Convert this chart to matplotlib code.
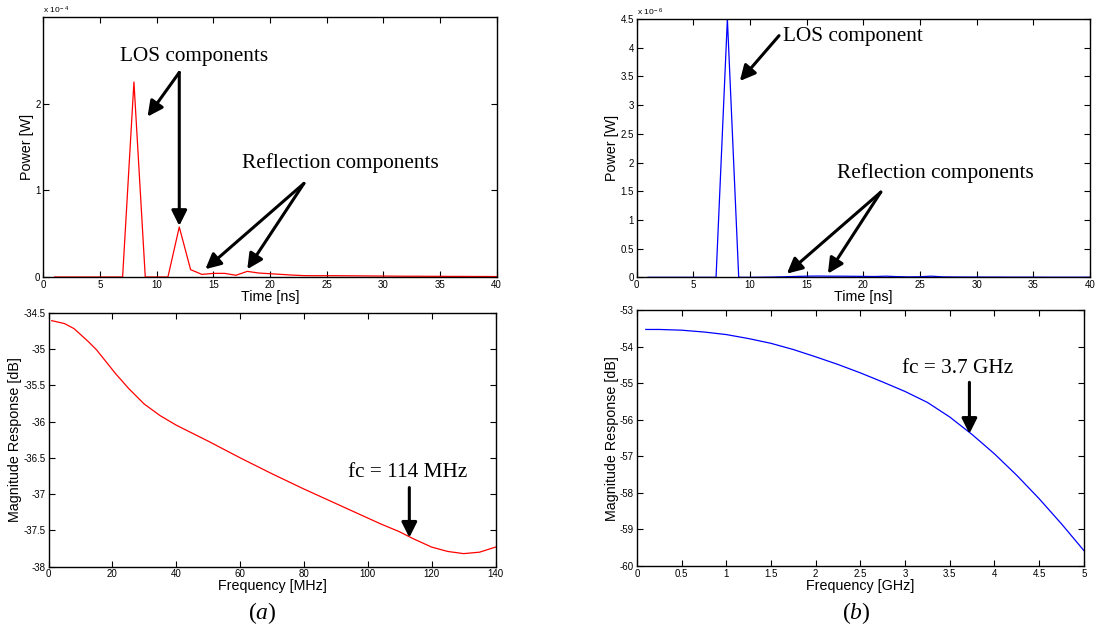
import numpy as np
import matplotlib
matplotlib.use("Agg")
import matplotlib.pyplot as plt

plt.rcParams['font.family'] = ['Liberation Sans', 'DejaVu Sans']
plt.rcParams['mathtext.fontset'] = 'custom'
plt.rcParams['mathtext.rm'] = 'Liberation Sans'
plt.rcParams['mathtext.it'] = 'Liberation Serif:italic'
plt.rcParams['axes.unicode_minus'] = False

# ---- data ----
time_ns = list(range(1, 41))
# (a) power in units of 1e-4 W
power_a_e4 = [0, 0, 0, 0, 0, 0, 0, 2.25, 0, 0,
              0, 0.577, 0.085, 0.03, 0.042, 0.042, 0.02, 0.065, 0.046, 0.038,
              0.03, 0.022, 0.016, 0.015, 0.015, 0.015, 0.014, 0.013, 0.012, 0.011,
              0.01, 0.009, 0.009, 0.008, 0.008, 0.007, 0.007, 0.006, 0.006, 0.005]
# (b) power in units of 1e-6 W
power_b_e6 = [0, 0, 0, 0, 0, 0, 0, 4.5, 0, 0,
              0.002, 0.005, 0.01, 0.015, 0.02, 0.022, 0.02, 0.02, 0.018, 0.016,
              0.014, 0.02, 0.012, 0.008, 0.01, 0.02, 0.008, 0.006, 0.005, 0.005,
              0.004, 0.004, 0.003, 0.003, 0.003, 0.002, 0.002, 0.002, 0.002, 0.002]

freq_mhz = [1, 5, 8, 10, 12.5, 15, 17, 21, 25, 30, 35, 40, 45, 50, 60, 70, 80, 90, 100,
            104, 110, 114, 120, 125, 130, 135, 140]
mag_a_db = [-34.61, -34.65, -34.72, -34.80, -34.90, -35.01, -35.12, -35.34, -35.54, -35.76,
            -35.92, -36.05, -36.16, -36.27, -36.50, -36.72, -36.93, -37.13, -37.33,
            -37.41, -37.52, -37.61, -37.73, -37.79, -37.82, -37.80, -37.73]

freq_ghz = [0.1, 0.25, 0.5, 0.75, 1.0, 1.25, 1.5, 1.75, 2.0, 2.25, 2.5, 2.75, 3.0,
            3.25, 3.5, 3.75, 4.0, 4.25, 4.5, 4.75, 5.0]
mag_b_db = [-53.52, -53.52, -53.54, -53.59, -53.66, -53.77, -53.90, -54.07, -54.27, -54.48,
            -54.71, -54.96, -55.22, -55.52, -55.92, -56.40, -56.93, -57.52, -58.16, -58.85,
            -59.58]

serif = ['Liberation Serif', 'DejaVu Serif']
ANN = 15.3
LAB = 10.3
TCK = 7

fig = plt.figure(figsize=(10.98, 6.27), dpi=100)

def style(ax):
    ax.tick_params(direction='in', top=True, right=True, length=4, width=0.8,
                   labelsize=TCK, pad=2)
    for s in ax.spines.values():
        s.set_linewidth(1.0)

arrow = dict(arrowstyle='-|>', color='k', lw=2.2, mutation_scale=23, shrinkA=0, shrinkB=0)

# ---- (a) top ----
ax1 = fig.add_axes([0.0394, 0.5582, 0.4129, 0.4147])
ax1.plot(time_ns, power_a_e4, color='red', lw=0.9)
ax1.set_xlim(0, 40)
ax1.set_ylim(0, 3)
ax1.set_xticks(range(0, 41, 5))
ax1.set_yticks([0, 1, 2])
style(ax1)
ax1.set_xlabel('Time [ns]', fontsize=LAB, labelpad=0)
ax1.set_ylabel('Power [W]', fontsize=LAB, labelpad=1)
ax1.text(0, 1.005, r'x 10$^{\rm -4}$', transform=ax1.transAxes, fontsize=6, ha='left', va='bottom')
ax1.text(6.8, 2.54, 'LOS components', family=serif, fontsize=ANN, ha='left', va='center')
ax1.annotate('', xy=(9.2, 1.85), xytext=(12.0, 2.36), arrowprops=arrow)
ax1.annotate('', xy=(12.0, 0.59), xytext=(12.0, 2.36), arrowprops=arrow)
ax1.text(17.5, 1.31, 'Reflection components', family=serif, fontsize=ANN, ha='left', va='center')
ax1.annotate('', xy=(14.3, 0.09), xytext=(23.0, 1.08), arrowprops=arrow)
ax1.annotate('', xy=(18.0, 0.09), xytext=(23.0, 1.08), arrowprops=arrow)

# ---- (a) bottom ----
ax2 = fig.add_axes([0.0442, 0.0962, 0.4071, 0.4051])
ax2.plot(freq_mhz, mag_a_db, color='red', lw=0.9)
ax2.set_xlim(0, 140)
ax2.set_ylim(-38, -34.5)
ax2.set_xticks(range(0, 141, 20))
ax2.set_yticks(np.arange(-38, -34.4, 0.5))
ax2.set_yticklabels(['-38', '-37.5', '-37', '-36.5', '-36', '-35.5', '-35', '-34.5'])
style(ax2)
ax2.set_xlabel('Frequency [MHz]', fontsize=LAB, labelpad=0)
ax2.set_ylabel('Magnitude Response [dB]', fontsize=LAB, labelpad=1)
ax2.text(112.5, -36.70, 'fc = 114 MHz', family=serif, fontsize=ANN, ha='center', va='center')
ax2.annotate('', xy=(113, -37.6), xytext=(113, -36.91), arrowprops=arrow)

# ---- (b) top ----
ax3 = fig.add_axes([0.5799, 0.5577, 0.4128, 0.412])
ax3.plot(time_ns, power_b_e6, color='blue', lw=0.9)
ax3.set_xlim(0, 40)
ax3.set_ylim(0, 4.5)
ax3.set_xticks(range(0, 41, 5))
ax3.set_yticks(np.arange(0, 4.51, 0.5))
ax3.set_yticklabels(['0', '0.5', '1', '1.5', '2', '2.5', '3', '3.5', '4', '4.5'])
style(ax3)
ax3.set_xlabel('Time [ns]', fontsize=LAB, labelpad=0)
ax3.set_ylabel('Power [W]', fontsize=LAB, labelpad=1)
ax3.text(0, 1.005, r'x 10$^{\rm -6}$', transform=ax3.transAxes, fontsize=6, ha='left', va='bottom')
ax3.text(12.9, 4.19, 'LOS component', family=serif, fontsize=ANN, ha='left', va='center')
ax3.annotate('', xy=(9.1, 3.42), xytext=(12.56, 4.21), arrowprops=arrow)
ax3.text(17.7, 1.815, 'Reflection components', family=serif, fontsize=ANN, ha='left', va='center')
ax3.annotate('', xy=(13.25, 0.064), xytext=(21.54, 1.485), arrowprops=arrow)
ax3.annotate('', xy=(16.87, 0.064), xytext=(21.54, 1.485), arrowprops=arrow)

# ---- (b) bottom ----
ax4 = fig.add_axes([0.58, 0.0976, 0.4071, 0.4072])
ax4.plot(freq_ghz, mag_b_db, color='blue', lw=0.9)
ax4.set_xlim(0, 5)
ax4.set_ylim(-60, -53)
ax4.set_xticks(np.arange(0, 5.01, 0.5))
ax4.set_xticklabels(['0', '0.5', '1', '1.5', '2', '2.5', '3', '3.5', '4', '4.5', '5'])
ax4.set_yticks(range(-60, -52))
style(ax4)
ax4.set_xlabel('Frequency [GHz]', fontsize=LAB, labelpad=0)
ax4.set_ylabel('Magnitude Response [dB]', fontsize=LAB, labelpad=1)
ax4.text(3.586, -54.58, 'fc = 3.7 GHz', family=serif, fontsize=ANN, ha='center', va='center')
ax4.annotate('', xy=(3.72, -56.38), xytext=(3.72, -54.97), arrowprops=arrow)

fig.text(262 / 1098, 1 - 613 / 627, r'($\it{a}$)', family=serif, fontsize=17, ha='center', va='center')
fig.text(856 / 1098, 1 - 613 / 627, r'($\it{b}$)', family=serif, fontsize=17, ha='center', va='center')

fig.savefig('out.png', dpi=100)
